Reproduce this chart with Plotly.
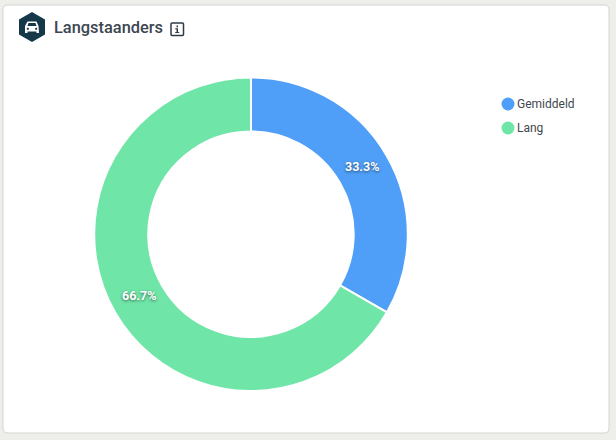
import math
import plotly.graph_objects as go

categories = ["Gemiddeld", "Lang"]
values = [33.3, 66.7]
colors = ["#4f9ff8", "#70e5a8"]
title = "Langstaanders"

W, H = 616, 440
def px(x): return x / W
def py(y): return 1 - y / H

CX, CY, R_OUT, HOLE = 251.0, 234.2, 156, 0.655
DOMAIN_R = R_OUT + 0.8

fig = go.Figure(go.Pie(
    labels=categories, values=values, sort=False, direction="clockwise", rotation=0,
    hole=HOLE, marker=dict(colors=colors, line=dict(color="#ffffff", width=2)),
    textinfo="none",
    hoverinfo="label+percent", showlegend=False,
    domain=dict(x=[px(CX - DOMAIN_R), px(CX + DOMAIN_R)], y=[py(CY + DOMAIN_R), py(CY - DOMAIN_R)]),
))

shapes = [
    dict(type="path", layer="below", xref="paper", yref="paper",
         path=(f"M {px(8)} {py(5)} L {px(604)} {py(5)} Q {px(609)} {py(5)} {px(609)} {py(10)} "
               f"L {px(609)} {py(428)} Q {px(609)} {py(433)} {px(604)} {py(433)} "
               f"L {px(8)} {py(433)} Q {px(3)} {py(433)} {px(3)} {py(428)} "
               f"L {px(3)} {py(10)} Q {px(3)} {py(5)} {px(8)} {py(5)} Z"),
         fillcolor="#ffffff", line=dict(color="#d4d4d0", width=1)),
    dict(type="path", xref="paper", yref="paper",
         path=(f"M {px(32)} {py(12)} L {px(45)} {py(19.5)} L {px(45)} {py(34.5)} "
               f"L {px(32)} {py(42)} L {px(19)} {py(34.5)} L {px(19)} {py(19.5)} Z"),
         fillcolor="#16394a", line=dict(width=0)),
    dict(type="path", xref="paper", yref="paper",
         path=(f"M {px(27.5)} {py(21.5)} L {px(36.5)} {py(21.5)} L {px(38.5)} {py(26)} "
               f"L {px(39)} {py(33)} L {px(36.5)} {py(33)} L {px(36.5)} {py(31.5)} "
               f"L {px(27.5)} {py(31.5)} L {px(27.5)} {py(33)} L {px(25)} {py(33)} "
               f"L {px(25)} {py(26)} Z"),
         fillcolor="#ffffff", line=dict(width=0)),
    dict(type="path", xref="paper", yref="paper",
         path=(f"M {px(28.5)} {py(23)} L {px(35.5)} {py(23)} L {px(36.5)} {py(26)} L {px(27.5)} {py(26)} Z"),
         fillcolor="#16394a", line=dict(width=0)),
    dict(type="circle", xref="paper", yref="paper",
         x0=px(26.7), x1=px(29), y0=py(30), y1=py(27.7), fillcolor="#16394a", line=dict(width=0)),
    dict(type="circle", xref="paper", yref="paper",
         x0=px(35), x1=px(37.3), y0=py(30), y1=py(27.7), fillcolor="#16394a", line=dict(width=0)),
    dict(type="path", xref="paper", yref="paper",
         path=(f"M {px(172)} {py(23)} L {px(182.5)} {py(23)} Q {px(183.5)} {py(23)} {px(183.5)} {py(24)} "
               f"L {px(183.5)} {py(34.5)} Q {px(183.5)} {py(35.5)} {px(182.5)} {py(35.5)} "
               f"L {px(172)} {py(35.5)} Q {px(171)} {py(35.5)} {px(171)} {py(34.5)} "
               f"L {px(171)} {py(24)} Q {px(171)} {py(23)} {px(172)} {py(23)} Z"),
         fillcolor="#ffffff", line=dict(color="#2f3a44", width=1.5)),
    dict(type="path", xref="paper", yref="paper",
         path=(f"M {px(175.2)} {py(28.3)} L {px(178)} {py(28.3)} L {px(178)} {py(32)} "
               f"L {px(179.2)} {py(32)} L {px(179.2)} {py(33)} L {px(175.2)} {py(33)} "
               f"L {px(175.2)} {py(32)} L {px(176.5)} {py(32)} L {px(176.5)} {py(29.3)} "
               f"L {px(175.2)} {py(29.3)} Z"),
         fillcolor="#2f3a44", line=dict(width=0)),
    dict(type="rect", xref="paper", yref="paper",
         x0=px(176.5), x1=px(178), y0=py(27.2), y1=py(25.4),
         fillcolor="#2f3a44", line=dict(width=0)),
]

legend_y = [104, 128]
for name, col, y in zip(categories, colors, legend_y):
    shapes.append(dict(type="circle", xref="paper", yref="paper",
                       x0=px(501.5), x1=px(514.5), y0=py(y + 6.5), y1=py(y - 6.5),
                       fillcolor=col, line=dict(width=0)))

annotations = [
    dict(text=title, xref="paper", yref="paper", x=px(52), y=py(28), xanchor="left", yanchor="middle",
         showarrow=False, font=dict(family="Roboto", size=16.4, color="#3c4650", weight=500)),
]
for name, y in zip(categories, legend_y):
    annotations.append(dict(text=name, xref="paper", yref="paper", x=px(515), y=py(y),
                            xanchor="left", yanchor="middle", showarrow=False,
                            font=dict(family="Roboto", size=12, color="#3f4750")))

# percentage labels at the middle of each ring segment, from the values
total = sum(values)
mid_r = R_OUT * (1 + HOLE) / 2
start = 0.0
for v in values:
    ang = math.radians((start + v / 2) / total * 360)
    start += v
    annotations.append(dict(
        text=f"{v / total:.1%}", xref="paper", yref="paper",
        x=px(CX + mid_r * math.sin(ang) - 0.5), y=py(CY - mid_r * math.cos(ang) - 3.5),
        xanchor="center", yanchor="middle", showarrow=False,
        font=dict(family="Roboto", size=12.5, color="#ffffff", weight="bold",
                  shadow="0px 1px 3px rgba(0,0,0,0.55)")))

fig.update_layout(width=W, height=H, margin=dict(l=0, r=0, t=0, b=0),
                  paper_bgcolor="#eeeeea", plot_bgcolor="#eeeeea",
                  shapes=shapes, annotations=annotations)
fig.write_html("out.html", config=dict(displayModeBar=False),
               post_script="document.body.style.margin='0';document.body.style.overflow='hidden';")
